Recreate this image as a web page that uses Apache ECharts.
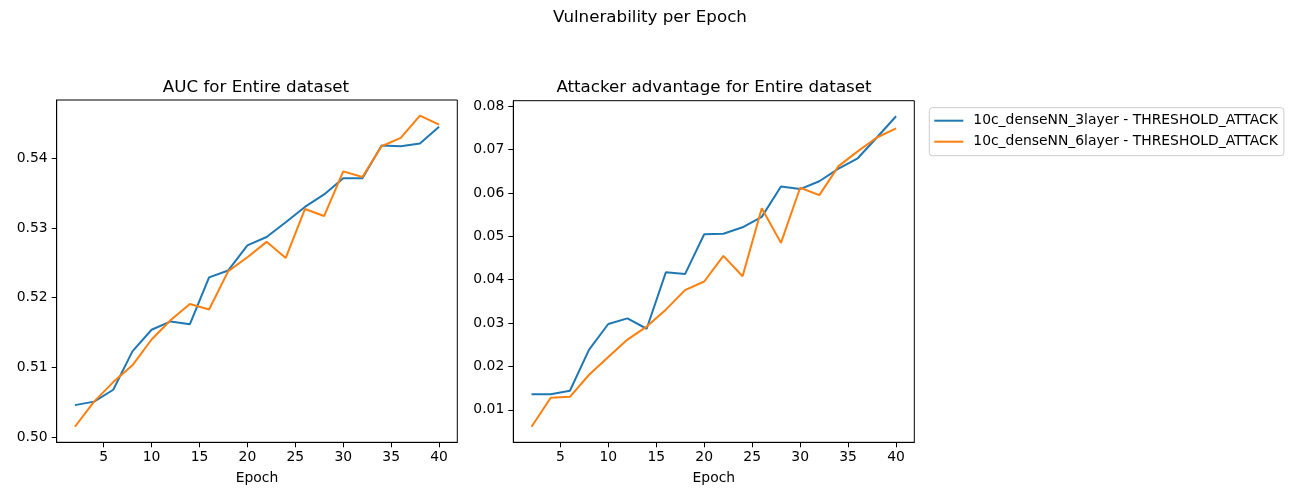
<!DOCTYPE html>
<html>
<head>
<meta charset="utf-8">
<script src="https://cdn.jsdelivr.net/npm/echarts@6/dist/echarts.min.js"></script>
<style>html,body{margin:0;padding:0;background:#fff}#c{width:1300px;height:500px}</style>
</head>
<body>
<div id="c"></div>
<script>
const epochs = [2,4,6,8,10,12,14,16,18,20,22,24,26,28,30,32,34,36,38,40];
const auc3 = [0.5046,0.5051,0.5068,0.5123,0.5154,0.5166,0.5162,0.5229,0.5239,0.5275,0.5287,0.5308,0.5330,0.5348,0.5371,0.5371,0.5418,0.5417,0.5421,0.5445];
const auc6 = [0.5015,0.5051,0.5079,0.5103,0.5140,0.5168,0.5191,0.5183,0.5238,0.5258,0.5280,0.5257,0.5327,0.5317,0.5381,0.5373,0.5417,0.5429,0.5461,0.5448];
const adv3 = [0.0136,0.0136,0.0144,0.0239,0.0298,0.0311,0.0287,0.0417,0.0413,0.0505,0.0506,0.0521,0.0545,0.0615,0.0609,0.0627,0.0656,0.0680,0.0728,0.0777];
const adv6 = [0.0061,0.0128,0.0130,0.0181,0.0222,0.0262,0.0292,0.0331,0.0376,0.0396,0.0455,0.0408,0.0565,0.0485,0.0612,0.0595,0.0662,0.0696,0.0728,0.0749];
const xTicks = [5,10,15,20,25,30,35,40];
const aucTicks = [0.50,0.51,0.52,0.53,0.54];
const advTicks = [0.01,0.02,0.03,0.04,0.05,0.06,0.07,0.08];
const seriesNames = ['10c_denseNN_3layer - THRESHOLD_ATTACK','10c_denseNN_6layer - THRESHOLD_ATTACK'];
const titles = ['Vulnerability per Epoch','AUC for Entire dataset','Attacker advantage for Entire dataset'];

const FONT = 'DejaVu Sans';
const C1 = '#1f77b4', C2 = '#ff7f0e';
function pad(arr){ const mn=Math.min(...arr), mx=Math.max(...arr), r=mx-mn; return [mn-0.05*r, mx+0.05*r]; }
const xr = pad(epochs);
const aR = pad(auc3.concat(auc6));
const vR = pad(adv3.concat(adv6));
const zip = (a)=>epochs.map((e,i)=>[e,a[i]]);

function xAxis(gi){
  return {type:'value', gridIndex:gi, min:xr[0], max:xr[1],
    name:'Epoch', nameLocation:'middle', nameGap:29,
    nameTextStyle:{fontFamily:FONT,fontSize:13.9,color:'#000'},
    axisLine:{show:true,lineStyle:{color:'#000',width:1}},
    axisTick:{show:true,inside:false,length:5,lineStyle:{color:'#000'},customValues:xTicks},
    axisLabel:{show:true,margin:8,fontFamily:FONT,fontSize:13.9,color:'#000',customValues:xTicks,formatter:v=>String(v)},
    splitLine:{show:false}};
}
function yAxis(gi, r, ticks){
  return {type:'value', gridIndex:gi, min:r[0], max:r[1],
    axisLine:{show:true,lineStyle:{color:'#000',width:1}},
    axisTick:{show:true,inside:false,length:5,lineStyle:{color:'#000'},customValues:ticks},
    axisLabel:{show:true,margin:9,fontFamily:FONT,fontSize:13.9,color:'#000',customValues:ticks,formatter:v=>v.toFixed(2)},
    splitLine:{show:false}};
}
function line(name, data, color, gi){
  return {name, type:'line', xAxisIndex:gi, yAxisIndex:gi, data:zip(data), showSymbol:false, symbol:'none',
    lineStyle:{color, width:2}, itemStyle:{color}, animation:false};
}
const tStyle = {fontFamily:FONT,fontSize:16.7,fontWeight:'normal',color:'#000'};
const chart = echarts.init(document.getElementById('c'));
chart.setOption({
  animation:false,
  backgroundColor:'#fff',
  title:[
    {text:titles[0], left:645, top:4, textAlign:'center', textStyle:tStyle},
    {text:titles[1], left:251, top:74, textAlign:'center', textStyle:tStyle},
    {text:titles[2], left:709, top:74, textAlign:'center', textStyle:tStyle}
  ],
  grid:[
    {left:56.7, top:100, width:400.6, height:342.3, show:true, borderColor:'#000', borderWidth:1, backgroundColor:'transparent'},
    {left:513.3, top:100.7, width:401, height:341.6, show:true, borderColor:'#000', borderWidth:1, backgroundColor:'transparent'}
  ],
  xAxis:[xAxis(0), xAxis(1)],
  yAxis:[yAxis(0,aR,aucTicks), yAxis(1,vR,advTicks)],
  legend:{
    data:seriesNames, orient:'vertical', left:929.3, top:107.7,
    icon:'rect', itemWidth:29, itemHeight:2, itemGap:7,
    padding:[6,6,7,5], borderColor:'#ccc', borderWidth:1, borderRadius:3,
    backgroundColor:'#fff',
    textStyle:{fontFamily:FONT,fontSize:13.9,color:'#000',padding:[0,0,0,5]}
  },
  series:[
    line(seriesNames[0], auc3, C1, 0),
    line(seriesNames[1], auc6, C2, 0),
    line(seriesNames[0], adv3, C1, 1),
    line(seriesNames[1], adv6, C2, 1)
  ]
});
</script>
</body>
</html>
